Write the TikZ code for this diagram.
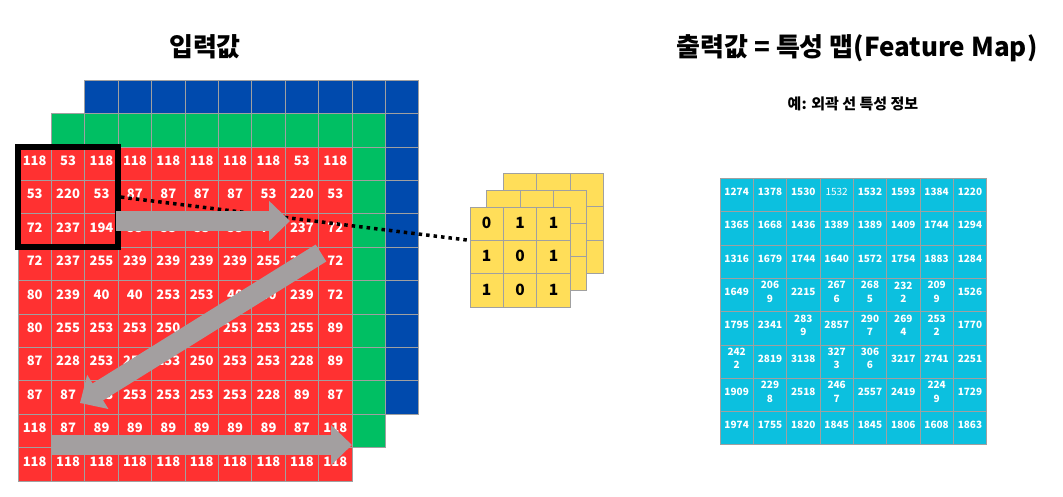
\documentclass[tikz,border=0pt]{standalone}
\usepackage{fontspec}
\setmainfont{Noto Sans CJK KR}
\usetikzlibrary{arrows.meta,fit}

\definecolor{inred}{HTML}{FF3131}
\definecolor{ingreen}{HTML}{00BF63}
\definecolor{inblue}{HTML}{004AAD}
\definecolor{kernyellow}{HTML}{FFDE59}
\definecolor{mapcyan}{HTML}{0CC0DF}
\definecolor{gridgray}{HTML}{A0A0A0}
\definecolor{arrowgray}{HTML}{A39FA0}

\tikzset{
    cell/.style={draw=gridgray, line width=0.9pt, minimum size=33.4pt,
        inner sep=0pt, outer sep=0pt, anchor=north west},
    intext/.style={text=white, font=\fontsize{13}{14}\selectfont\bfseries, yshift=3pt},
    incell/.style={cell, fill=inred, label={[intext]center:#1}},
    kcell/.style={cell, fill=kernyellow, label={[ktext]center:#1}},
    ktext/.style={text=black, font=\fontsize{15.5}{18}\selectfont\bfseries, yshift=1pt},
    fmcell/.style={cell, minimum size=33.33pt, fill=mapcyan, label={[fmtext]center:#1}},
    fmtext/.style={text=white, align=center, font=\fontsize{10}{13.3}\selectfont\bfseries, yshift=3pt},
    window/.style={draw=black, line width=5.5pt, inner sep=0pt},
    dotline/.style={black, line width=3.5pt, dash pattern=on 3.5pt off 4pt},
    bigarrow/.style={arrowgray, line width=20pt, -{Triangle[length=21pt,width=39pt]}},
    title/.style={font=\fontsize{26}{30}\selectfont\bfseries}
}

\begin{document}
\begin{tikzpicture}[x=1pt,y=-1pt]
    \useasboundingbox (0,0) rectangle (1063,497);

    \node[title] (intitle) at (205,47) {입력값};
    \node[title] (fmtitle) at (857,48) {출력값 = 특성 맵(Feature Map)};
    \node[font=\fontsize{15}{17}\selectfont\bfseries] (fmnote) at (853,104) {예: 외곽 선 특성 정보};

    \foreach \i in {0,...,9}
        \foreach \j in {0,...,9}
            \node[cell, fill=inblue] (b-\i-\j) at ({84.8+33.4*\j},{80.2+33.4*\i}) {};
    \foreach \i in {0,...,9}
        \foreach \j in {0,...,9}
            \node[cell, fill=ingreen] (g-\i-\j) at ({51.4+33.4*\j},{113.6+33.4*\i}) {};
    \foreach \row [count=\i from 0] in {
            {118,53,118,118,118,118,118,118,53,118},
            {53,220,53,87,87,87,87,53,220,53},
            {72,237,194,53,53,53,53,72,237,72},
            {72,237,255,239,239,239,239,255,237,72},
            {80,239,40,40,253,253,40,40,239,72},
            {80,255,253,253,250,250,253,253,255,89},
            {87,228,253,253,253,250,253,253,228,89},
            {87,87,253,253,253,253,253,228,89,87},
            {118,87,89,89,89,89,89,89,87,118},
            {118,118,118,118,118,118,118,118,118,118}}
        \foreach \v [count=\j from 0] in \row
            \node[incell=\v] (in-\i-\j) at ({18+33.4*\j},{147+33.4*\i}) {};

    \node[window, fit=(in-0-0)(in-2-2)] (win) {};

    \foreach \i in {0,1,2}
        \foreach \j in {0,1,2}
            \node[cell, fill=kernyellow] (kb-\i-\j) at ({503.3+33.4*\j},{173.3+33.4*\i}) {};
    \foreach \i in {0,1,2}
        \foreach \j in {0,1,2}
            \node[cell, fill=kernyellow] (km-\i-\j) at ({486.7+33.4*\j},{190+33.4*\i}) {};
    \foreach \row [count=\i from 0] in {{0,1,1},{1,0,1},{1,0,1}}
        \foreach \v [count=\j from 0] in \row
            \node[kcell=\v] (k-\i-\j) at ({470+33.4*\j},{207+33.4*\i}) {};

    \draw[dotline] (win.east) -- (k-0-0.south west);

    \foreach \row [count=\i from 0] in {
            {1274,1378,1530,{\mdseries 1532},1532,1593,1384,1220},
            {1365,1668,1436,1389,1389,1409,1744,1294},
            {1316,1679,1744,1640,1572,1754,1883,1284},
            {1649,206\\9,2215,267\\6,268\\5,232\\2,209\\9,1526},
            {1795,2341,283\\9,2857,290\\7,269\\4,253\\2,1770},
            {242\\2,2819,3138,327\\3,306\\6,3217,2741,2251},
            {1909,229\\8,2518,246\\7,2557,2419,224\\9,1729},
            {1974,1755,1820,1845,1845,1806,1608,1863}}
        \foreach \v [count=\j from 0] in \row
            \node[fmcell=\v] (fm-\i-\j) at ({720+33.33*\j},{178.3+33.33*\i}) {};

    \coordinate (a1s) at (116,221);
    \coordinate (a1e) at (290,221);
    \coordinate (a2s) at (321,253);
    \coordinate (a2e) at (80,403);
    \coordinate (a3s) at (52,445);
    \coordinate (a3e) at (352,445);
    \draw[bigarrow] (a1s) -- (a1e);
    \draw[bigarrow] (a2s) -- (a2e);
    \draw[bigarrow] (a3s) -- (a3e);
\end{tikzpicture}
\end{document}
